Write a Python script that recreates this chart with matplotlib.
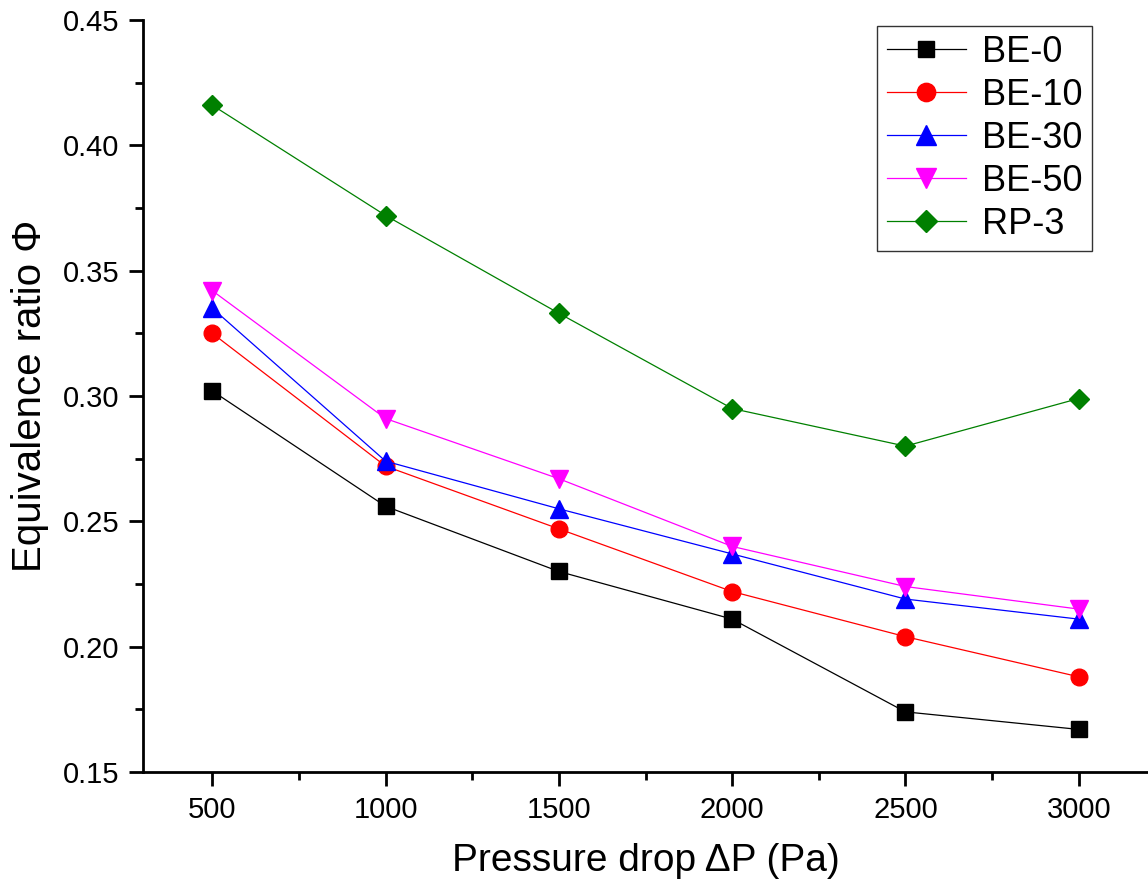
import numpy as np
import matplotlib
matplotlib.use("Agg")
import matplotlib.pyplot as plt
from matplotlib.ticker import MultipleLocator

plt.rcParams["font.family"] = ["Liberation Sans", "DejaVu Sans"]

pressure = [500, 1000, 1500, 2000, 2500, 3000]
be0 = [0.302, 0.256, 0.230, 0.211, 0.174, 0.167]
be10 = [0.325, 0.272, 0.247, 0.222, 0.204, 0.188]
be30 = [0.335, 0.274, 0.255, 0.237, 0.219, 0.211]
be50 = [0.342, 0.291, 0.267, 0.240, 0.224, 0.215]
rp3 = [0.416, 0.372, 0.333, 0.295, 0.280, 0.299]

series = [
    ("BE-0", be0, "black", "s", 11),
    ("BE-10", be10, "red", "o", 12),
    ("BE-30", be30, "blue", "^", 13),
    ("BE-50", be50, "magenta", "v", 13),
    ("RP-3", rp3, "#008000", "D", 10),
]

fig = plt.figure(figsize=(11.48, 8.88), dpi=100)
ax = fig.add_axes([0.1246, 0.1306, 0.8754, 0.8469])

for name, vals, color, marker, ms in series:
    ax.plot(pressure, vals, color=color, marker=marker, markersize=ms,
            linewidth=0.9, label=name)

ax.set_xlim(300, 3200)
ax.set_ylim(0.15, 0.45)
ax.xaxis.set_major_locator(MultipleLocator(500))
ax.xaxis.set_minor_locator(MultipleLocator(250))
ax.yaxis.set_major_locator(MultipleLocator(0.05))
ax.yaxis.set_minor_locator(MultipleLocator(0.025))
ax.yaxis.set_major_formatter(matplotlib.ticker.FormatStrFormatter("%.2f"))

ax.spines["top"].set_visible(False)
ax.spines["right"].set_visible(False)
ax.spines["left"].set_linewidth(2)
ax.spines["bottom"].set_linewidth(2)
ax.tick_params(which="major", direction="out", length=10, width=2,
               labelsize=21, pad=7)
ax.tick_params(which="minor", direction="out", length=6, width=2)

ax.set_xlabel("Pressure drop ΔP (Pa)", fontsize=28, labelpad=14)
ax.set_ylabel("Equivalence ratio Φ", fontsize=29, labelpad=10)

leg = ax.legend(loc="upper right", bbox_to_anchor=(0.944, 0.992), fontsize=26,
                frameon=True, fancybox=False, edgecolor="black",
                handlelength=2.2, labelspacing=0.22, borderpad=0.25,
                handletextpad=0.45, borderaxespad=0, markerscale=1.1)
leg.get_frame().set_linewidth(1.0)

fig.savefig("out.png", dpi=100)
